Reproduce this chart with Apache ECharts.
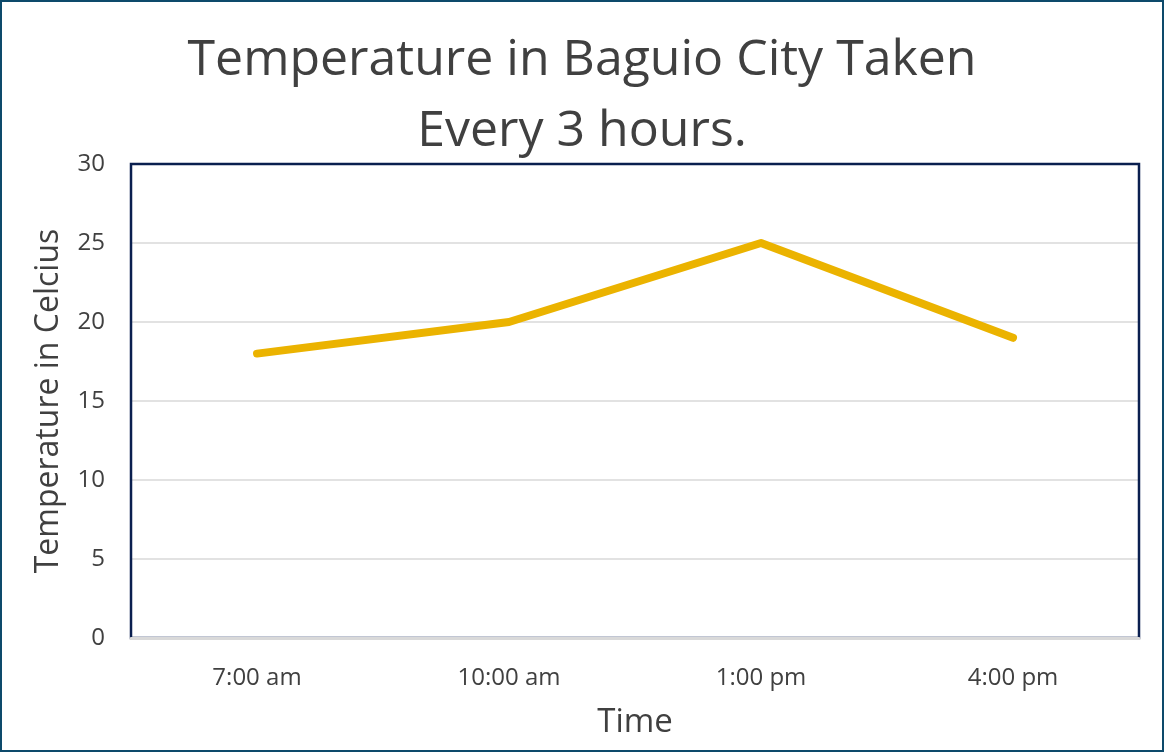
<!DOCTYPE html>
<html>
<head>
<meta charset="utf-8">
<script src="https://cdn.jsdelivr.net/npm/echarts@6/dist/echarts.min.js"></script>
<style>
  html, body { margin: 0; padding: 0; background: #fff; }
  #chart { width: 1164px; height: 752px; box-sizing: border-box; border: 2px solid #0d4a6b; }
</style>
</head>
<body>
<div id="chart"></div>
<script>
// data
var times = ['7:00 am', '10:00 am', '1:00 pm', '4:00 pm'];
var temps = [18, 20, 25, 19];

var myChart = echarts.init(document.getElementById('chart'));
var font = 'Open Sans';
var option = {
    // title on two lines
    title: {
        text: 'Temperature in Baguio City Taken\nEvery 3 hours.',
        left: 'center',
        top: 18,
        textStyle: { fontFamily: font, fontSize: 50, fontWeight: 'normal', color: '#404040', lineHeight: 71 }
    },
    // border on top of the grid lines, bottom edge is covered by the gray x axis line
    grid: {
        left: 129, right: 23, top: 162, bottom: 112,
        show: true, borderColor: '#0a1f4f', borderWidth: 2.5, backgroundColor: 'transparent', z: 3
    },
    xAxis: {
        type: 'category',
        data: times,
        z: 5,
        name: 'Time',
        nameLocation: 'middle',
        nameGap: 68,
        nameTextStyle: { fontFamily: font, fontSize: 33, color: '#404040' },
        axisLine: { lineStyle: { color: '#d9d9d9', width: 3 } },
        axisTick: { show: false },
        axisLabel: { fontFamily: font, fontSize: 24, color: '#404040', margin: 28 }
    },
    yAxis: {
        type: 'value',
        min: 0, max: 30, interval: 5,
        name: 'Temperature in Celcius',
        nameLocation: 'middle',
        nameGap: 66,
        nameTextStyle: { fontFamily: font, fontSize: 32, color: '#404040' },
        axisLine: { show: false },
        axisTick: { show: false },
        splitLine: { lineStyle: { color: '#d9d9d9', width: 1.5 } },
        axisLabel: { fontFamily: font, fontSize: 24, color: '#404040', margin: 26 }
    },
    series: [{
        type: 'line',
        data: temps,
        symbol: 'none',
        lineStyle: { color: '#ebb300', width: 8, cap: 'round', join: 'round' },
        itemStyle: { color: '#ebb300' }
    }]
};
myChart.setOption(option);
</script>
</body>
</html>
